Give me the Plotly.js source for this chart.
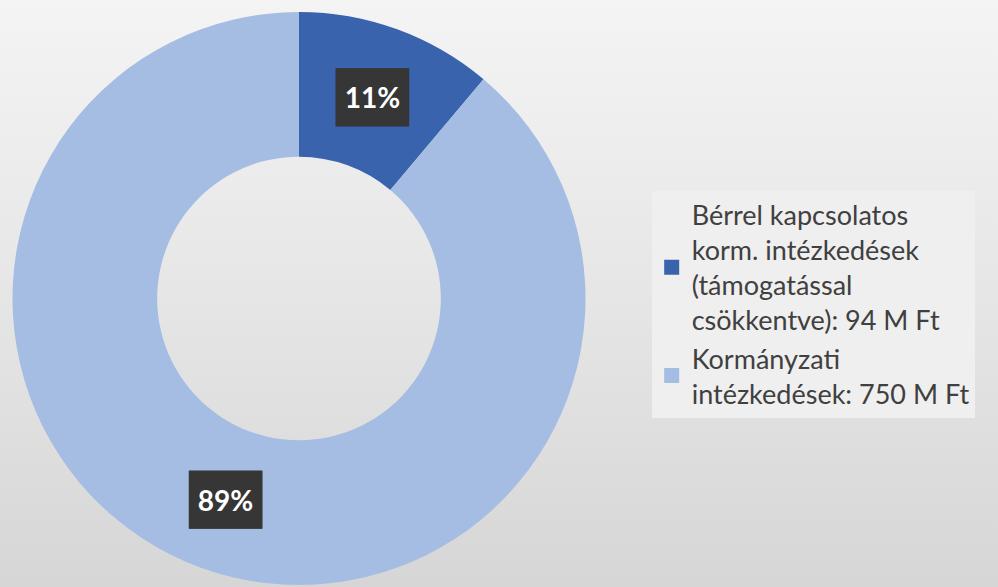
<!DOCTYPE html>
<html>
<head>
<meta charset="utf-8">
<script src="https://cdn.plot.ly/plotly-3.0.1.min.js"></script>
<style>
  html, body { margin:0; padding:0; }
  body { width:998px; height:587px; background: linear-gradient(to bottom, #f4f4f4 0%, #e6e6e6 50%, #d6d6d6 100%); }
  #chart { width:998px; height:587px; }
</style>
</head>
<body>
<div id="chart"></div>
<script>
const categories = [
  "Bérrel kapcsolatos<br>korm. intézkedések<br>(támogatással<br>csökkentve): 94 M Ft",
  "Kormányzati<br>intézkedések: 750 M Ft"
];
const values = [94, 750];
const colors = ["#3a63ae", "#a5bde3"];

const trace = {
  type: "pie",
  labels: categories,
  values: values,
  hole: 0.495,
  sort: false,
  direction: "clockwise",
  rotation: 0,
  marker: { colors: colors, line: { width: 0 } },
  textinfo: "percent",
  texttemplate: "%{percent:.0%}",
  textposition: "inside",
  insidetextorientation: "horizontal",
  textfont: { family: "Lato, 'Open Sans', sans-serif", size: 28, color: "#ffffff", weight: "bold" },
  hoverinfo: "none",
  domain: { x: [8/998, 590/998], y: [2/587, 575/587] }
};

const layout = {
  width: 998, height: 587,
  margin: { l: 0, r: 0, t: 0, b: 0 },
  paper_bgcolor: "rgba(0,0,0,0)",
  plot_bgcolor: "rgba(0,0,0,0)",
  showlegend: true,
  legend: {
    x: 0.653, xanchor: "left",
    y: 0.482, yanchor: "middle",
    bgcolor: "#efefef",
    font: { family: "Lato, 'Open Sans', sans-serif", size: 27, color: "#404040" },
    valign: "middle",
    tracegroupgap: 0
  }
};

Plotly.newPlot("chart", [trace], layout, { staticPlot: true }).then(function () {
  document.querySelectorAll(".slicetext").forEach(function (t) {
    const bb = t.getBBox();
    const padX = 9, padY = 14;
    const r = document.createElementNS("http://www.w3.org/2000/svg", "rect");
    r.setAttribute("x", bb.x - padX);
    r.setAttribute("y", bb.y - padY + 2);
    r.setAttribute("width", bb.width + 2 * padX);
    r.setAttribute("height", bb.height + 2 * padY - 4);
    r.setAttribute("fill", "#363636");
    const tr = t.getAttribute("transform");
    if (tr) r.setAttribute("transform", tr);
    t.parentNode.insertBefore(r, t);
  });
  document.querySelectorAll(".legendpoints .legendpie").forEach(function (p) {
    const tr = p.getAttribute("transform") || "";
    p.setAttribute("transform", tr + " scale(1.25)");
  });
});
</script>
</body>
</html>
